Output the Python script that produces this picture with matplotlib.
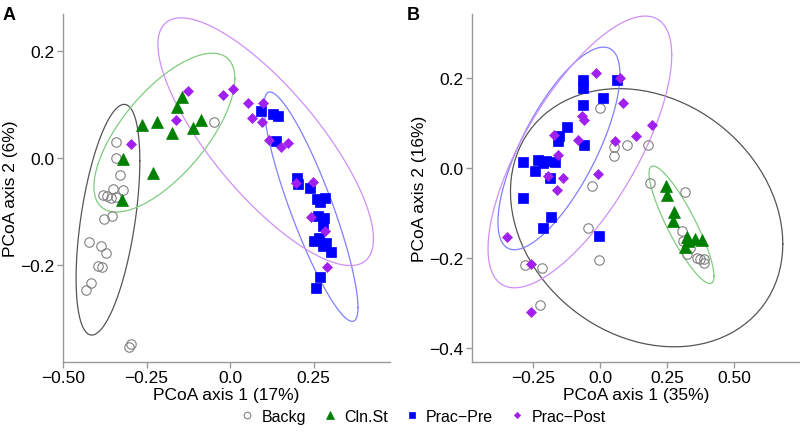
import matplotlib
matplotlib.use("Agg")
import matplotlib.pyplot as plt
import numpy as np

plt.rcParams["font.family"] = ["Liberation Sans", "DejaVu Sans"]

groups = ["Backg", "Cln.St", "Prac-Pre", "Prac-Post"]
legend_labels = ["Backg", "Cln.St", "Prac\u2212Pre", "Prac\u2212Post"]

# panel A (axis 1 17%, axis 2 6%)
a_backg_x = [-0.341, -0.341, -0.329, -0.380, -0.368, -0.350, -0.320, -0.341, -0.356, -0.048,
             -0.353, -0.377, -0.422, -0.386, -0.371, -0.395, -0.383, -0.416, -0.431, -0.296, -0.302]
a_backg_y = [0.030, 0.000, -0.032, -0.069, -0.071, -0.058, -0.060, -0.073, -0.075, 0.067,
             -0.108, -0.114, -0.157, -0.164, -0.178, -0.202, -0.204, -0.234, -0.247, -0.348, -0.353]
a_cln_x = [-0.320, -0.263, -0.219, -0.174, -0.144, -0.159, -0.111, -0.087, -0.231, -0.323]
a_cln_y = [-0.002, 0.062, 0.067, 0.047, 0.114, 0.095, 0.056, 0.071, -0.028, -0.079]
a_pre_x = [0.093, 0.129, 0.144, 0.138, 0.201, 0.204, 0.240, 0.260, 0.284, 0.269,
           0.263, 0.281, 0.278, 0.251, 0.266, 0.287, 0.278, 0.302, 0.269, 0.257]
a_pre_y = [0.088, 0.082, 0.079, 0.032, -0.037, -0.049, -0.056, -0.077, -0.075, -0.082,
           -0.108, -0.112, -0.127, -0.155, -0.150, -0.159, -0.164, -0.176, -0.222, -0.243]
a_post_x = [-0.296, -0.126, -0.162, -0.021, 0.009, 0.054, 0.099, 0.066, 0.096, 0.117,
            0.153, 0.174, 0.249, 0.243, 0.284, 0.290, 0.198]
a_post_y = [0.026, 0.125, 0.071, 0.118, 0.129, 0.103, 0.103, 0.075, 0.067, 0.034,
            0.021, 0.028, -0.045, -0.110, -0.136, -0.204, -0.047]

# panel B (axis 1 35%, axis 2 16%)
b_backg_x = [0.000, 0.052, 0.101, 0.179, 0.052, -0.030, 0.187, 0.317, -0.045, -0.004, -0.280,
             -0.216, -0.224, 0.306, 0.310, 0.336, 0.325, 0.362, 0.373, 0.388, 0.388]
b_backg_y = [0.133, 0.047, 0.051, 0.051, 0.027, -0.040, -0.033, -0.053, -0.133, -0.204, -0.216,
             -0.222, -0.304, -0.140, -0.162, -0.178, -0.191, -0.200, -0.202, -0.202, -0.211]
b_cln_x = [0.246, 0.250, 0.276, 0.272, 0.325, 0.354, 0.381, 0.317, 0.328]
b_cln_y = [-0.040, -0.060, -0.098, -0.118, -0.153, -0.158, -0.160, -0.176, -0.162]
b_pre_x = [-0.063, -0.063, 0.063, 0.011, -0.063, -0.123, -0.153, -0.157, -0.060, -0.287,
           -0.231, -0.213, -0.201, -0.168, -0.243, -0.187, -0.287, -0.183, -0.213, -0.004]
b_pre_y = [0.196, 0.178, 0.196, 0.156, 0.140, 0.091, 0.071, 0.060, 0.051, 0.013,
           0.018, 0.011, 0.016, 0.013, -0.007, -0.022, -0.067, -0.109, -0.133, -0.151]
b_post_x = [-0.015, 0.075, 0.086, -0.067, -0.060, 0.194, 0.134, -0.172, -0.082, 0.056,
            -0.157, -0.194, -0.138, -0.160, -0.007, -0.347, -0.257, -0.257]
b_post_y = [0.211, 0.200, 0.144, 0.116, 0.107, 0.096, 0.071, 0.073, 0.062, 0.060,
            0.029, -0.018, -0.022, -0.049, -0.013, -0.153, -0.213, -0.320]

a_xlabel = "PCoA axis 1 (17%)"
a_ylabel = "PCoA axis 2 (6%)"
b_xlabel = "PCoA axis 1 (35%)"
b_ylabel = "PCoA axis 2 (16%)"
a_xticks = [-0.50, -0.25, 0.0, 0.25]
a_xticklabels = ["\u22120.50", "\u22120.25", "0.0", "0.25"]
a_yticks = [-0.2, 0.0, 0.2]
a_yticklabels = ["\u22120.2", "0.0", "0.2"]
b_xticks = [-0.25, 0.0, 0.25, 0.50]
b_xticklabels = ["\u22120.25", "0.0", "0.25", "0.50"]
b_yticks = [-0.4, -0.2, 0.0, 0.2]
b_yticklabels = ["\u22120.4", "\u22120.2", "0.0", "0.2"]

point_style = {
    "Backg": dict(marker="o", mfc="none", mec="#808080", ms=6.8, mew=0.8),
    "Cln.St": dict(marker="^", mfc="#008000", mec="#008000", ms=8.0, mew=0.5),
    "Prac-Pre": dict(marker="s", mfc="#0000ff", mec="#0000ff", ms=7.0, mew=0.5),
    "Prac-Post": dict(marker="D", mfc="#a020f0", mec="#a020f0", ms=4.6, mew=0.5),
}
ellipse_color = {"Backg": "#555555", "Cln.St": "#7fcc7f", "Prac-Pre": "#7f7fff", "Prac-Post": "#cf8ff7"}


def cov_trob(x, nu=5, maxit=25, tol=0.01):
    # robust t covariance, same idea as MASS::cov.trob
    n, p = x.shape
    loc = x.mean(axis=0)
    w = np.ones(n)
    for _ in range(maxit):
        w0 = w
        X = x - loc
        _, d, vt = np.linalg.svd(np.sqrt(w / w.sum())[:, None] * X, full_matrices=False)
        wX = X @ vt.T @ np.diag(1 / d)
        Q = (wX ** 2).sum(axis=1)
        w = (nu + p) / (nu + Q)
        loc = (w[:, None] * x).sum(axis=0) / w.sum()
        if np.all(np.abs(w - w0) < tol):
            break
    X = x - loc
    cov = (np.sqrt(w)[:, None] * X).T @ (np.sqrt(w)[:, None] * X) / n
    return loc, cov


def ellipse_path(xs, ys, level=0.95, segments=101):
    pts = np.column_stack([xs, ys])
    n = len(pts)
    loc, cov = cov_trob(pts)
    dfd = n - 1
    fq = dfd / 2 * ((1 - level) ** (-2 / dfd) - 1)
    radius = np.sqrt(2 * fq)
    chol = np.linalg.cholesky(cov).T
    ang = np.linspace(0, 2 * np.pi, segments)
    circ = np.column_stack([np.cos(ang), np.sin(ang)])
    e = loc + radius * circ @ chol
    return e[:, 0], e[:, 1]


def draw_panel(ax, data, xlim, ylim, xticks, xticklabels, yticks, yticklabels, xlabel, ylabel):
    for g in groups:
        ex, ey = ellipse_path(*data[g])
        ax.plot(ex, ey, color=ellipse_color[g], lw=0.9, zorder=1)
    for g in groups:
        ax.plot(*data[g], ls="none", zorder=2, **point_style[g])
    ax.set_xlim(*xlim)
    ax.set_ylim(*ylim)
    ax.set_xticks(xticks)
    ax.set_xticklabels(xticklabels)
    ax.set_yticks(yticks)
    ax.set_yticklabels(yticklabels)
    ax.set_xlabel(xlabel, fontsize=12.5, labelpad=1)
    ax.set_ylabel(ylabel, fontsize=12.5, labelpad=2)
    for s in ["top", "right"]:
        ax.spines[s].set_visible(False)
    for s in ["left", "bottom"]:
        ax.spines[s].set_color("#999999")
        ax.spines[s].set_linewidth(1.0)
    ax.tick_params(colors="#999999", labelcolor="black", labelsize=12.5, length=4, width=1.0, pad=2)


fig = plt.figure(figsize=(8, 4.35), dpi=100)
ax_a = fig.add_axes([0.07875, 0.1655, 0.40875, 0.80])
ax_b = fig.add_axes([0.59, 0.1655, 0.41, 0.80])

data_a = {"Backg": (a_backg_x, a_backg_y), "Cln.St": (a_cln_x, a_cln_y),
          "Prac-Pre": (a_pre_x, a_pre_y), "Prac-Post": (a_post_x, a_post_y)}
data_b = {"Backg": (b_backg_x, b_backg_y), "Cln.St": (b_cln_x, b_cln_y),
          "Prac-Pre": (b_pre_x, b_pre_y), "Prac-Post": (b_post_x, b_post_y)}

draw_panel(ax_a, data_a, (-0.50, 0.479), (-0.381, 0.269), a_xticks, a_xticklabels,
           a_yticks, a_yticklabels, a_xlabel, a_ylabel)
draw_panel(ax_b, data_b, (-0.478, 0.746), (-0.431, 0.342), b_xticks, b_xticklabels,
           b_yticks, b_yticklabels, b_xlabel, b_ylabel)

fig.text(0.003, 0.985, "A", fontsize=13, fontweight="bold", va="top")
fig.text(0.509, 0.985, "B", fontsize=13, fontweight="bold", va="top")

handles = []
for g in groups:
    st = dict(point_style[g])
    st["ms"] = st["ms"] * 0.7
    h, = ax_a.plot([], [], ls="none", **st)
    handles.append(h)
fig.legend(handles, legend_labels, loc="lower center", bbox_to_anchor=(0.527, -0.01), ncol=4,
           frameon=False, fontsize=11.5, handletextpad=0.3, columnspacing=0.9, handlelength=1.2)

fig.savefig("out.png", dpi=100)
